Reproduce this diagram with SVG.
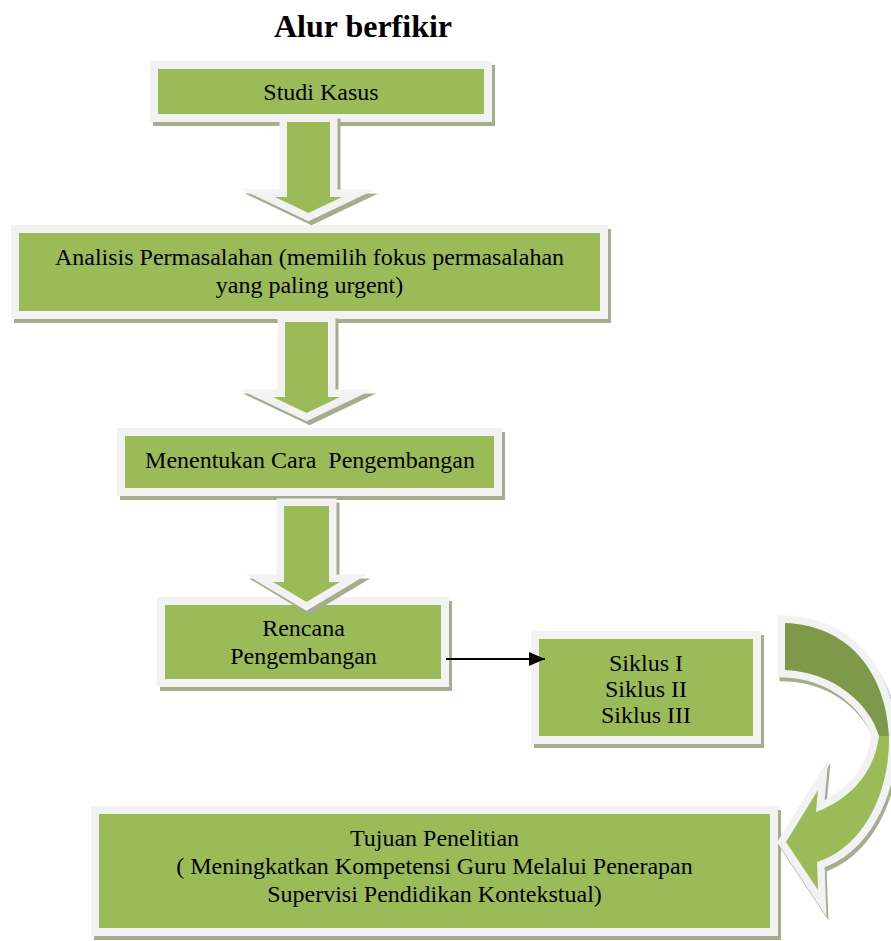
<svg xmlns="http://www.w3.org/2000/svg" width="891" height="941" viewBox="0 0 891 941">
<defs>
<style>
.sh{fill:#A5AD8F;stroke:#A5AD8F;stroke-width:8}
.bx{fill:#9BBB59;stroke:#F2F2F2;stroke-width:8}
.ash{fill:#A5AD8F;stroke:#A5AD8F;stroke-width:15;stroke-linejoin:miter;stroke-miterlimit:20}
.aw{fill:#F2F2F2;stroke:#F2F2F2;stroke-width:15;stroke-linejoin:miter;stroke-miterlimit:20}
.ag{fill:#9BBB59}
.ad{fill:#7D9949}
.t{font-family:"Liberation Serif","Times New Roman",serif;font-size:24px;fill:#000;text-anchor:middle}
.title{font-family:"Liberation Serif","Times New Roman",serif;font-size:32px;font-weight:bold;fill:#000;text-anchor:middle}
</style>
<marker id="ah" markerUnits="userSpaceOnUse" markerWidth="18" markerHeight="16" refX="16" refY="7" orient="auto">
<path d="M0,0 L16,7 L0,14 Z" fill="#000"/>
</marker>
<path id="a1" d="M287,122 L330,122 L330,197 L342,197 L308.5,213 L275,197 L287,197 Z"/>
<path id="a2" d="M285,322 L328,322 L328,397 L340,397 L306.5,413 L273,397 L285,397 Z"/>
<path id="a3" d="M284,506 L329,506 L329,582 L340,582 L306.5,602 L273,582 L284,582 Z"/>
<path id="cd" d="M785,623 C848,625 886,672 889,736 L879,736 C870,705 835,672 785,670 Z"/>
<path id="cl" d="M889,736 C890,795 862,848 817,862 L818,890 L786,842 L818,790 L816,812 C848,800 874,775 879,736 Z"/>
</defs>
<text class="title" x="363" y="37">Alur berfikir</text>

<g id="node-studi-kasus">
<rect class="sh" x="157" y="69" width="334" height="53"/>
<rect class="bx" x="154" y="65" width="334" height="53"/>
<text class="t" x="321" y="100">Studi Kasus</text>
</g>

<g id="node-analisis">
<rect class="sh" x="18" y="233" width="589" height="86"/>
<rect class="bx" x="15" y="229" width="589" height="86"/>
<text class="t" x="309.5" y="265">Analisis Permasalahan (memilih fokus permasalahan</text>
<text class="t" x="309.5" y="293">yang paling urgent)</text>
</g>

<g id="node-menentukan">
<rect class="sh" x="124" y="436" width="377" height="60"/>
<rect class="bx" x="121" y="432" width="377" height="60"/>
<text class="t" x="310" y="468" xml:space="preserve">Menentukan Cara  Pengembangan</text>
</g>

<g id="node-rencana">
<rect class="sh" x="164" y="605" width="284" height="82"/>
<rect class="bx" x="161" y="601" width="284" height="82"/>
<text class="t" x="303.5" y="636">Rencana</text>
<text class="t" x="303.5" y="664">Pengembangan</text>
</g>

<g id="node-siklus">
<rect class="sh" x="538" y="639" width="222" height="105"/>
<rect class="bx" x="535" y="635" width="222" height="105"/>
<text class="t" x="646" y="671">Siklus I</text>
<text class="t" x="646" y="697">Siklus II</text>
<text class="t" x="646" y="723">Siklus III</text>
</g>

<g id="node-tujuan">
<rect class="sh" x="98" y="814" width="679" height="122"/>
<rect class="bx" x="95" y="810" width="679" height="122"/>
<text class="t" x="434.5" y="846">Tujuan Penelitian</text>
<text class="t" x="434.5" y="874">( Meningkatkan Kompetensi Guru Melalui Penerapan</text>
<text class="t" x="434.5" y="902">Supervisi Pendidikan Kontekstual)</text>
</g>

<g id="connectors">
<g id="arrow-1">
<use href="#a1" class="ash" transform="translate(3,4)"/>
<use href="#a1" class="aw"/>
<use href="#a1" class="ag"/>
</g>
<g id="arrow-2">
<use href="#a2" class="ash" transform="translate(3,4)"/>
<use href="#a2" class="aw"/>
<use href="#a2" class="ag"/>
</g>
<g id="arrow-3">
<use href="#a3" class="ash" transform="translate(3,4)"/>
<use href="#a3" class="aw"/>
<use href="#a3" class="ag"/>
</g>
<line id="arrow-rencana-siklus" x1="446" y1="659" x2="545" y2="659" stroke="#000" stroke-width="2" marker-end="url(#ah)"/>
<g id="arrow-curved">
<use href="#cd" class="ash" transform="translate(2,4)"/>
<use href="#cl" class="ash" transform="translate(2,4)"/>
<use href="#cd" class="aw"/>
<use href="#cl" class="aw"/>
<use href="#cd" class="ad"/>
<use href="#cl" class="ag"/>
</g>
</g>
</svg>
